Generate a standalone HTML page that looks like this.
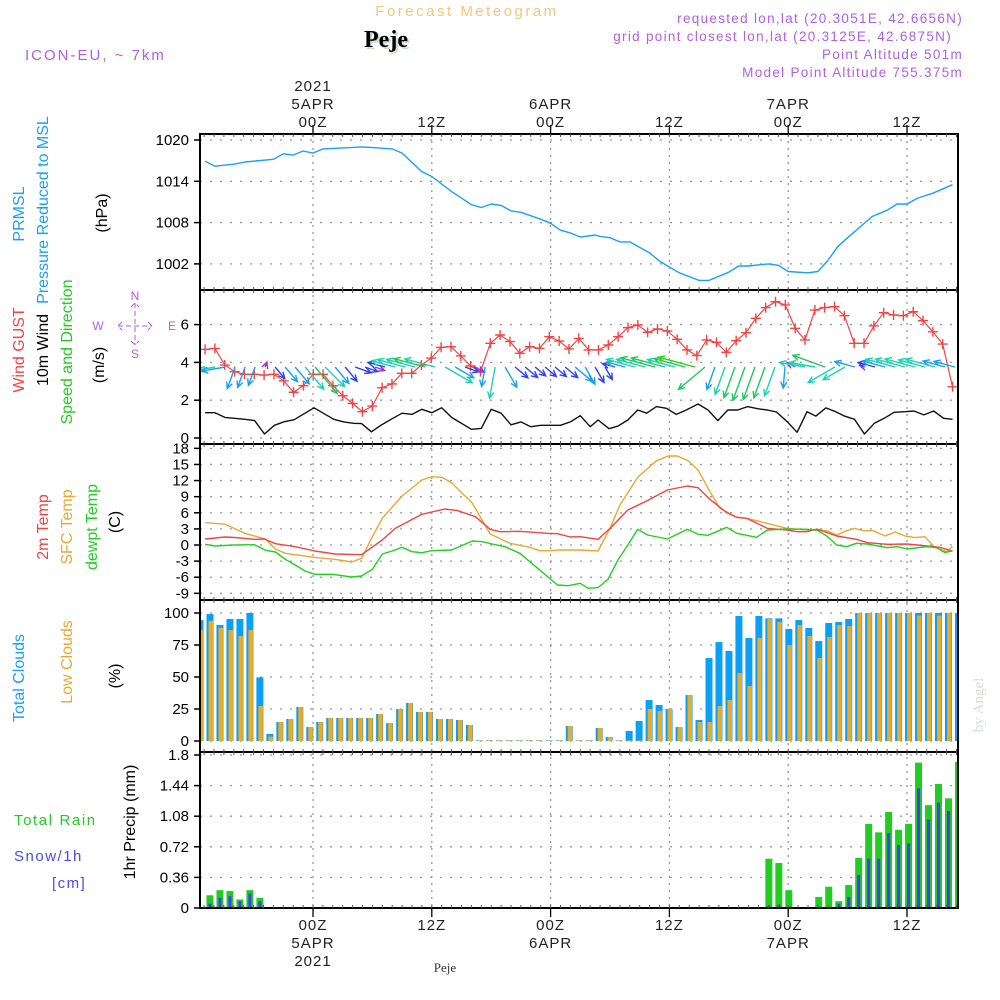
<!DOCTYPE html>
<html><head><meta charset="utf-8">
<style>
html,body{margin:0;padding:0;background:#fff;}
svg{display:block;font-family:"Liberation Sans",sans-serif;}
</style></head>
<body>
<svg id="chart" width="1000" height="1000" viewBox="0 0 1000 1000" xmlns="http://www.w3.org/2000/svg">
<rect x="0" y="0" width="1000" height="1000" fill="#fff"/>
<text x="467" y="16" text-anchor="middle" font-size="15" fill="#f3c77a" letter-spacing="2.5">Forecast Meteogram</text>
<text x="388" y="49" text-anchor="middle" font-size="24" font-weight="bold" font-family="Liberation Serif, serif" fill="#c8dcc8">Peje</text>
<text x="386" y="47" text-anchor="middle" font-size="24" font-weight="bold" font-family="Liberation Serif, serif" fill="#000">Peje</text>
<text x="25" y="60" font-size="15" fill="#b060e0" letter-spacing="2">ICON-EU, ~ 7km</text>
<g font-size="13.5" fill="#b060e0" text-anchor="end" letter-spacing="1.3">
<text x="963" y="23">requested lon,lat (20.3051E, 42.6656N)</text>
<text x="952" y="41">grid point closest lon,lat (20.3125E, 42.6875N)</text>
<text x="963" y="59">Point Altitude 501m</text>
<text x="963" y="77">Model Point Altitude 755.375m</text>
</g>
<g fill="#b060e0" font-size="12" text-anchor="middle">
<text x="135" y="300">N</text>
<text x="98" y="330">W</text>
<text x="172" y="330">E</text>
<text x="135" y="358">S</text>
<path d="M131,307L135,303L139,307M135,303V345M131,341L135,345L139,341M118,326H152M122,322L118,326L122,330M148,322L152,326L148,330" stroke="#b060e0" stroke-width="1" fill="none" stroke-dasharray="5,3"/>
</g>
<g id="grid"></g>
<g id="marks"></g>
<g id="frames"></g>
<g id="labels"></g>
<text x="445" y="972" text-anchor="middle" font-size="13" font-family="Liberation Serif, serif" fill="#333">Peje</text>
<text transform="translate(983,705) rotate(-90)" text-anchor="middle" font-size="15" font-family="Liberation Serif, serif" fill="#d8ddd8">by Angel</text>
</svg>
<script>
// ---------- DATA ----------
const dayTicksH = [0, 12, 24, 36, 48, 60];
const topTickLabels = [["2021","5APR","00Z"],["12Z"],["6APR","00Z"],["12Z"],["7APR","00Z"],["12Z"]];
const botTickLabels = [["00Z","5APR","2021"],["12Z"],["00Z","6APR"],["12Z"],["00Z","7APR"],["12Z"]];

const presTicks = [1020, 1014, 1008, 1002];
const presTimes = [-10.9,-9.9,-7.9,-6.9,-4,-3,-2,-1,0,1,5,8,9,11,12,14,16,17,18,19,20,21,23,24,25,26,27,28.5,29,30,31,32,34,35,37,39,40,42,43,44,46,47,48,50,51,52,53,54,56.5,58,59,60,61,62,62.5,64.6];
const presVals = [1016.9,1016.2,1016.5,1016.8,1017.2,1018,1017.8,1018.4,1018.1,1018.7,1019,1018.7,1018.1,1015.4,1014.7,1012.5,1010.6,1010.2,1010.7,1010.5,1009.7,1009.5,1008.5,1007.9,1006.9,1006.5,1005.9,1006.2,1006.0,1005.8,1005.2,1005.2,1003.6,1002.4,1000.7,999.6,999.6,1000.8,1001.7,1001.7,1002,1001.8,1000.9,1000.7,1000.9,1002.5,1004.5,1005.8,1008.9,1009.8,1010.7,1010.7,1011.5,1012,1012.2,1013.5];

const windTicks = [6, 4, 2, 0];
const windTimes = [-10.9,-9.9,-8.9,-6.9,-5.9,-4.9,-3.9,-2.9,-1.9,0.1,2.1,3.1,4.1,4.9,5.9,6.9,8,9,10,11,12,13,14,16,17,18,19,20,21,22,23,25,26,27,28,28.8,29.9,30.8,31.8,32.8,33.7,34.7,35.7,36.7,37.7,38.9,39.9,40.9,41.9,42.9,43.9,44.9,45.9,46.8,47.9,48.9,49.9,50.8,51.8,52.8,53.7,54.7,55.7,56.7,57.7,58.7,59.8,60.7,61.7,62.7,63.7,64.6];
const windVals = [1.34,1.34,1.09,0.99,0.92,0.21,0.67,0.86,0.97,1.6,0.99,0.85,0.78,0.76,0.33,0.69,1.02,1.31,1.25,1.52,1.34,1.6,1.09,0.46,0.51,1.52,1.31,0.7,0.85,0.6,0.67,0.67,0.85,1.18,0.6,0.95,0.49,0.63,0.95,1.48,1.31,1.66,1.57,1.25,1.48,1.8,1.48,0.92,1.48,1.48,1.66,1.55,1.48,1.38,0.86,0.3,1.39,1.16,1.59,1.39,1.16,0.99,0.21,0.78,1.04,1.36,1.39,1.43,1.22,1.43,1.04,0.99];
const gustStartH = -10.9, gustEndH = 64.6;
const gustVals = [4.69,4.74,3.86,3.51,3.37,3.37,3.33,3.37,3.02,2.42,2.77,3.37,3.37,2.77,2.24,1.83,1.39,1.69,2.66,2.86,3.42,3.42,3.86,4.23,4.8,4.83,4.34,3.81,3.51,5.01,5.45,5.1,4.48,4.83,4.74,5.36,5.13,4.71,5.27,4.66,4.66,4.92,5.36,5.84,5.98,5.59,5.77,5.66,5.22,4.66,4.36,5.19,5.06,4.53,5.15,5.57,6.33,6.9,7.21,7.04,5.8,5.19,6.77,6.9,6.95,6.47,5.01,5.01,5.93,6.63,6.51,6.47,6.68,6.21,5.62,4.97,2.71];
const arrowStartH = -10.9, arrowStepH = 1.01;
const windDir = [80,80,80,20,20,20,200,320,320,320,320,320,315,320,320,290,290,290,105,105,105,105,105,105,300,300,290,300,10,10,330,310,310,310,310,310,310,310,330,330,330,105,105,105,105,105,105,105,105,105,50,20,20,20,20,20,20,20,5,120,100,100,110,60,60,105,105,105,105,105,105,105,105,105,105,105];

const tempTicks = [18,15,12,9,6,3,0,-3,-6,-9];
const t2Times = [-10.9,-8.9,-7.9,-5.9,-4.9,-3.8,-1.8,0.2,2.2,4.9,7,8.3,11,13.3,14.6,16.4,17.9,18.9,20.9,23.7,24.7,26,27,28.8,30,31.8,33.7,35.8,37.8,38.9,40.1,41.8,42.8,43.8,45.9,47.9,48.9,49.9,50.9,52.9,54.9,56,58,60,62,63.3,64.6];
const t2Vals = [1.12,1.49,1.4,1.06,1.12,0.25,-0.31,-1.12,-1.68,-1.8,0.93,3.1,5.71,6.7,6.4,5.27,2.92,2.48,2.55,2.17,2.1,1.49,1.55,1.06,3.1,6.52,8.19,10.24,10.99,10.67,8.5,6.02,5.16,4.97,3.1,2.79,2.48,2.48,2.98,1.68,1.06,0.43,0.13,0.19,-0.19,-0.43,-1.12];
const sfcTimes = [-10.9,-8.9,-6.9,-4.8,-3.8,-2.8,0.2,2.2,3.9,4.9,6,7,9,11,12,13,14,16.1,17.9,19.9,21.9,22.9,23.9,24.9,27,28.8,30,31,32.8,34.7,35.9,36.8,37.9,38.9,40.1,41.1,42.8,43.8,45.2,47.9,49.9,51.9,52.9,53.9,54.7,55.6,56.6,57.8,58.8,59.8,60.8,61.8,62.8,64,64.6];
const sfcVals = [4.16,3.9,2.17,1.12,-0.74,-1.55,-2.3,-2.67,-3.17,-2.48,1.55,4.97,9.12,12.1,12.72,12.6,11.6,7.77,2.05,0.31,-0.43,-1.06,-1.06,-0.93,-0.93,-1.12,3.1,7.45,12.6,15.7,16.57,16.57,15.7,13.97,9.93,6.83,5.16,4.97,4.34,3.1,2.79,2.66,1.86,2.66,3.1,2.66,2.66,1.68,2.42,1.68,1.37,1.55,-0.43,-1.24,-0.31];
const dewTimes = [-10.9,-9.9,-7.9,-5.9,-4.8,-3.8,-2.8,-1.8,-0.8,0.2,2,3.9,4.9,6,7,8,9,10,11,12,14,16.1,17.1,18.1,19.4,20.9,22.7,24.7,25.8,27,27.8,28.8,29.8,30.8,31.8,32.8,33.8,35.8,37.8,38.9,39.9,41.8,42.8,44.8,45.9,47.9,49.9,50.9,51.9,52.9,53.9,54.9,56,58,59,60,62,63,63.8,64.6];
const dewVals = [0.13,-0.19,0,0.06,-0.99,-1.3,-2.67,-3.72,-4.84,-5.46,-5.46,-5.96,-5.77,-4.53,-1.68,-1.12,-0.43,-1.24,-1.43,-1.06,-0.93,0.74,0.62,0.19,-0.31,-1.55,-4.34,-7.45,-7.57,-7.13,-8.07,-7.94,-6.39,-2.79,0,2.92,1.86,1.12,2.92,1.99,1.8,3.29,2.17,1.43,2.79,2.98,2.92,2.79,1.68,0,-0.31,0.31,0.19,-0.5,-0.31,-0.74,-0.31,-0.5,-1.37,-1.12];

const cloudTicks = [100,75,50,25,0];
const totalCloud = [94.5,99.2,90.6,95.3,95.3,100,49.7,5.5,14.8,17.2,26.6,10.9,14.8,18,18,18,18,18,21.1,14,25,29.7,22.7,22.7,17.2,17.2,16.4,12.5,0.5,0.5,0.5,0.5,0.5,0.5,0.5,0.5,0.5,11.7,0.5,0.5,10.2,3.1,0.5,7.8,15.6,32,28.1,25,10.9,35.9,16.4,64.8,77.3,70.3,97.7,80.5,97.7,95.8,95.8,87.5,94.5,88.3,78.1,92.2,93,95.3,100,100,100,100,100,100,100,100,100,100,100];
const lowCloud = [86.7,93.8,88.5,86.7,82,86.7,27.3,3.4,14.8,17.2,26.6,10.9,14.8,18,18,18,18,18,21.1,14,25,29.7,22.7,22.7,17.2,17.2,16.4,12.5,0.5,0.5,0.5,0.5,0.5,0.5,0.5,0.5,0.5,11.7,0.5,0.5,10.2,3.1,0.5,0.5,0.5,25,23.4,25,10.9,35.9,14.8,14.8,27.3,32,53,43,80.5,95.3,93,75,90.6,82,64.8,81.3,90.6,89.8,100,100,100,100,100,100,98,100,98,100,100];

const precipTicks = [1.8,1.44,1.08,0.72,0.36,0];
const precipTickLabels = ["1.8","1.44","1.08","0.72","0.36","0"];
const rainTotal = [0,0.15,0.21,0.2,0.1,0.21,0.12,0,0,0,0,0,0,0,0,0,0,0,0,0,0,0,0,0,0,0,0,0,0,0,0,0,0,0,0,0,0,0,0,0,0,0,0,0,0,0,0,0,0,0,0,0,0,0,0,0.01,0.01,0.58,0.53,0.21,0,0,0.13,0.25,0.08,0.27,0.59,0.99,0.89,1.13,0.92,0.99,1.71,1.21,1.46,1.29,1.72];
const snowVals = [0,0.05,0.12,0.14,0.08,0.17,0.08,0,0,0,0,0,0,0,0,0,0,0,0,0,0,0,0,0,0,0,0,0,0,0,0,0,0,0,0,0,0,0,0,0,0,0,0,0,0,0,0,0,0,0,0,0,0,0,0,0,0,0.03,0.04,0.01,0,0,0,0,0.05,0.13,0.39,0.58,0.58,0.88,0.74,0.76,1.41,1.04,1.24,1.14,1.64];

// ---------- SCALES ----------
const X0 = 200, X1 = 958;
const xOf = h => 313 + h * 9.9;
const barX = i => 200 + i * 9.98;
const yPres = p => 140 + (1020 - p) * 6.883;
const yWind = v => 438 - v * 18.9;
const yTemp = t => 545 - t * 5.37;
const yCloud = c => 741 - c * 1.28;
const yPrec = p => 908 - p * 85;
const panels = [
  {name:"pressure-panel", top:134, bot:290},
  {name:"wind-panel", top:290, bot:444},
  {name:"temperature-panel", top:444, bot:600},
  {name:"cloud-panel", top:600, bot:752},
  {name:"precip-panel", top:752, bot:908}
];
const NS = "http://www.w3.org/2000/svg";
function mk(tag, attrs, parent){
  const e = document.createElementNS(NS, tag);
  for (const k in attrs) e.setAttribute(k, attrs[k]);
  parent.appendChild(e); return e;
}
const G = document.getElementById("grid"), M = document.getElementById("marks"),
      F = document.getElementById("frames"), L = document.getElementById("labels");
const clipDef = mk("defs", {}, M);
const cp = mk("clipPath", {id:"plotclip"}, clipDef);
mk("rect", {x:X0, y:134, width:X1-X0, height:774}, cp);
M.setAttribute("clip-path", "url(#plotclip)");

dayTicksH.forEach(h => {
  const ln = mk("line", {x1:xOf(h), x2:xOf(h), y1:134, y2:908, stroke:"#999", "stroke-width":1.3, "stroke-dasharray":"2,5"}, G);
  
  
});
function hgrid(vals, fy){
  vals.forEach(v => {
    const ln = mk("line", {x1:X0, x2:X1, y1:fy(v), y2:fy(v), stroke:"#999", "stroke-width":1.3, "stroke-dasharray":"2,8"}, G);
    
    
  });
}
hgrid(presTicks, yPres); hgrid(windTicks, yWind); hgrid(tempTicks, yTemp); hgrid(cloudTicks, yCloud); hgrid(precipTicks, yPrec);

function yticks(vals, labels, fy, name){
  vals.forEach((v,i) => {
    const t = mk("text", {x:189, y:fy(v)+5, "text-anchor":"end", "font-size":15, fill:"#000"}, L);
    t.textContent = labels ? labels[i] : String(v);
    
    
    const tk = mk("line", {x1:194, x2:X0, y1:fy(v), y2:fy(v), stroke:"#000", "stroke-width":1.5}, F);
    
    
  });
}
yticks(presTicks, null, yPres, "pressure-tick-label");
yticks(windTicks, null, yWind, "wind-tick-label");
yticks(tempTicks, null, yTemp, "temperature-tick-label");
yticks(cloudTicks, null, yCloud, "cloud-tick-label");
yticks(precipTicks, precipTickLabels, yPrec, "precip-tick-label");

function tlabels(arr, yStart, fromBottom, name){
  arr.forEach((lines,i) => {
    const n = lines.length;
    lines.forEach((s,j) => {
      const y = fromBottom ? yStart - (n-1-j)*18 : yStart + j*18;
      const t = mk("text", {x:xOf(dayTicksH[i]), y:y, "text-anchor":"middle", "font-size":15, fill:"#222", "letter-spacing":"1"}, L);
      t.textContent = s;
      
      
    });
  });
}
tlabels(topTickLabels, 127, true, "top-time-label");
tlabels(botTickLabels, 930, false, "bottom-time-label");

function polyline(times, vals, fy, color, name, w){
  const pts = times.map((h,i) => xOf(h).toFixed(1) + "," + fy(vals[i]).toFixed(1)).join(" ");
  const p = mk("polyline", {points:pts, fill:"none", stroke:color, "stroke-width":w||1.4, "stroke-linejoin":"round"}, M);
  
  
}
polyline(presTimes, presVals, yPres, "#1aa0f5", "pressure-line");
polyline(windTimes, windVals, yWind, "#111", "wind-speed-line");
polyline(sfcTimes, sfcVals, yTemp, "#eaa830", "sfc-temp-line");
polyline(t2Times, t2Vals, yTemp, "#f04545", "2m-temp-line");
polyline(dewTimes, dewVals, yTemp, "#22d022", "dewpoint-line");

const gStep = (gustEndH - gustStartH) / (gustVals.length - 1);
const gpts = gustVals.map((v,i) => xOf(gustStartH + i*gStep).toFixed(1) + "," + yWind(v).toFixed(1)).join(" ");
const gl = mk("polyline", {points:gpts, fill:"none", stroke:"#f04545", "stroke-width":1.2}, M);


gustVals.forEach((v,i) => {
  const x = xOf(gustStartH + i*gStep), y = yWind(v);
  const m = mk("path", {d:`M${x-5},${y}H${x+5}M${x},${y-5}V${y+5}`, stroke:"#f04545", "stroke-width":1.4}, M);
  
  
});

function interpWind(h){
  if (h <= windTimes[0]) return windVals[0];
  for (let i=1;i<windTimes.length;i++){
    if (h <= windTimes[i]){
      const f = (h - windTimes[i-1])/(windTimes[i]-windTimes[i-1]);
      return windVals[i-1] + f*(windVals[i]-windVals[i-1]);
    }
  }
  return windVals[windVals.length-1];
}
function windColor(s){
  if (s < 0.5) return "#9a30e0";
  if (s < 0.85) return "#3040f0";
  if (s < 1.1) return "#18a0f0";
  if (s < 1.45) return "#20d0b0";
  if (s < 1.7) return "#20c860";
  return "#30d010";
}
windDir.forEach((d,i) => {
  const h = arrowStartH + i*arrowStepH;
  const s = interpWind(h);
  const len = Math.max(4, 22*s);
  const rad = d*Math.PI/180;
  const vx = -Math.sin(rad), vy = Math.cos(rad);
  const x0 = xOf(h), y0 = 367;
  const x1 = x0 + vx*len, y1 = y0 + vy*len;
  const hl = 7, ang = Math.atan2(vy, vx);
  const a1 = ang + Math.PI - 0.45, a2 = ang + Math.PI + 0.45;
  const d_ = `M${x0.toFixed(1)},${y0}L${x1.toFixed(1)},${y1.toFixed(1)}M${(x1+hl*Math.cos(a1)).toFixed(1)},${(y1+hl*Math.sin(a1)).toFixed(1)}L${x1.toFixed(1)},${y1.toFixed(1)}L${(x1+hl*Math.cos(a2)).toFixed(1)},${(y1+hl*Math.sin(a2)).toFixed(1)}`;
  const a = mk("path", {d:d_, stroke:windColor(s), "stroke-width":1.4, fill:"none"}, M);
  
  
});

totalCloud.forEach((c,i) => {
  const x = barX(i);
  const b = mk("rect", {x:x-3.5, y:yCloud(c), width:7, height:yCloud(0)-yCloud(c), fill:"#0aa0f5"}, M);
  
  
  const lc = lowCloud[i];
  const o = mk("rect", {x:x-1.5, y:yCloud(lc), width:4.5, height:yCloud(0)-yCloud(lc), fill:"#e8ac2a"}, M);
  
  
});
rainTotal.forEach((p,i) => {
  const x = barX(i);
  if (p > 0){
    const b = mk("rect", {x:x-3.5, y:yPrec(p), width:7, height:yPrec(0)-yPrec(p), fill:"#22cc22"}, M);
    
    
  }
  const s = snowVals[i];
  if (s > 0){
    const sb = mk("rect", {x:x-1.5, y:yPrec(s), width:3, height:yPrec(0)-yPrec(s), fill:"#4040f0"}, M);
    
    
  }
});

panels.forEach(p => {
  const r = mk("rect", {x:X0, y:p.top, width:X1-X0, height:p.bot-p.top, fill:"none", stroke:"#000", "stroke-width":2}, F);
  
  
});
for (let h=-11; h<=65; h++){
  const x = xOf(h);
  if (x < X0 || x > X1) continue;
  panels.forEach(p => {
    const t = mk("path", {d:`M${x},${p.top}v3M${x},${p.bot}v-3`, stroke:"#555", "stroke-width":1}, F);
    
    
  });
}
dayTicksH.forEach(h => {
  const t = mk("path", {d:`M${xOf(h)},125v9M${xOf(h)},908v9`, stroke:"#000", "stroke-width":1.3}, F);
  
  
});

function vtext(str, x, y, color, size, name){
  const t = mk("text", {transform:`translate(${x},${y}) rotate(-90)`, "text-anchor":"middle", "font-size":size||16, fill:color}, L);
  t.textContent = str;
  
  
}
vtext("PRMSL", 24, 214, "#1aa0f5", 16, "pressure-title");
vtext("Pressure Reduced to MSL", 48, 210, "#1aa0f5", 16, "pressure-subtitle");
vtext("(hPa)", 107, 213, "#000", 16, "pressure-unit");
vtext("Wind GUST", 24, 350, "#f04545", 16, "gust-title");
vtext("10m Wind", 48, 350, "#000", 16, "wind-title");
vtext("Speed and Direction", 72, 352, "#22cc22", 16, "wind-subtitle");
vtext("(m/s)", 104, 365, "#000", 16, "wind-unit");
vtext("2m Temp", 48, 527, "#f04545", 16, "t2m-title");
vtext("SFC Temp", 72, 527, "#eaa830", 16, "sfc-temp-title");
vtext("dewpt Temp", 97, 527, "#22cc22", 16, "dewpoint-title");
vtext("(C)", 120, 522, "#000", 16, "temp-unit");
vtext("Total Clouds", 24, 678, "#1aa0f5", 16, "total-cloud-title");
vtext("Low Clouds", 72, 662, "#eaa830", 16, "low-cloud-title");
vtext("(%)", 120, 676, "#000", 16, "cloud-unit");
vtext("1hr Precip (mm)", 135, 822, "#000", 16, "precip-title");
function htext(str, x, y, color, name, ls){
  const t = mk("text", {x:x, y:y, "font-size":15, fill:color, "letter-spacing":ls||"1.5"}, L);
  t.textContent = str;
  
  
}
htext("Total   Rain", 14, 825, "#22cc22", "rain-legend", "1.6");
htext("Snow/1h", 14, 861, "#4a4af0", "snow-legend");
htext("[cm]", 52, 888, "#4a4af0", "snow-unit");
</script>
</body></html>
